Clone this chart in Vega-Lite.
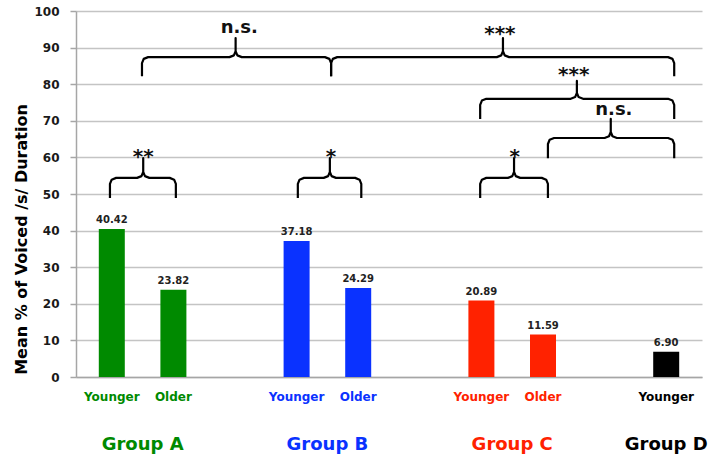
{
  "$schema": "https://vega.github.io/schema/vega-lite/v6.json",
  "autosize": {"type": "none"},
  "width": 626,
  "height": 366,
  "padding": {"left": 76, "top": 11, "right": 18, "bottom": 80},
  "background": "white",
  "config": {
    "view": {"stroke": null},
    "font": "DejaVu Sans",
    "axisY": {
      "domainColor": "#a6a6a6", "domainWidth": 1.5,
      "gridColor": "#c4c4c4", "gridWidth": 1.5,
      "tickColor": "#a6a6a6", "tickSize": 6, "tickWidth": 1.5,
      "labelFont": "DejaVu Sans", "labelFontWeight": "bold", "labelFontSize": 12, "labelColor": "#1a1a1a", "labelPadding": 11,
      "titleFont": "DejaVu Sans", "titleFontWeight": "bold", "titleFontSize": 16, "titleColor": "#000000"
    },
    "axisX": {"domainColor": "#a6a6a6", "domainWidth": 1.5, "grid": false, "ticks": false, "labels": false}
  },
  "datasets": {
    "bars": [
      {"g": "Group A", "a": "Younger", "p": 1, "v": 40.42},
      {"g": "Group A", "a": "Older", "p": 2, "v": 23.82},
      {"g": "Group B", "a": "Younger", "p": 4, "v": 37.18},
      {"g": "Group B", "a": "Older", "p": 5, "v": 24.29},
      {"g": "Group C", "a": "Younger", "p": 7, "v": 20.89},
      {"g": "Group C", "a": "Older", "p": 8, "v": 11.59},
      {"g": "Group D", "a": "Younger", "p": 10, "v": 6.90}
    ],
    "braces": [
      {"b": 1, "i": 1, "x": 0.97, "y": 48.9}, {"b": 1, "i": 2, "x": 0.97, "y": 52.76}, {"b": 1, "i": 3, "x": 0.998, "y": 53.92}, {"b": 1, "i": 4, "x": 1.07, "y": 54.4}, {"b": 1, "i": 5, "x": 1.41, "y": 54.4}, {"b": 1, "i": 6, "x": 1.482, "y": 54.88}, {"b": 1, "i": 7, "x": 1.51, "y": 56.04}, {"b": 1, "i": 8, "x": 1.51, "y": 59.8}, {"b": 1, "i": 9, "x": 1.51, "y": 56.04}, {"b": 1, "i": 10, "x": 1.538, "y": 54.88}, {"b": 1, "i": 11, "x": 1.61, "y": 54.4}, {"b": 1, "i": 12, "x": 1.94, "y": 54.4}, {"b": 1, "i": 13, "x": 2.012, "y": 53.92}, {"b": 1, "i": 14, "x": 2.04, "y": 52.76}, {"b": 1, "i": 15, "x": 2.04, "y": 48.9},
      {"b": 2, "i": 1, "x": 4.02, "y": 48.9}, {"b": 2, "i": 2, "x": 4.02, "y": 52.76}, {"b": 2, "i": 3, "x": 4.048, "y": 53.92}, {"b": 2, "i": 4, "x": 4.12, "y": 54.4}, {"b": 2, "i": 5, "x": 4.44, "y": 54.4}, {"b": 2, "i": 6, "x": 4.512, "y": 54.88}, {"b": 2, "i": 7, "x": 4.54, "y": 56.04}, {"b": 2, "i": 8, "x": 4.54, "y": 59.8}, {"b": 2, "i": 9, "x": 4.54, "y": 56.04}, {"b": 2, "i": 10, "x": 4.568, "y": 54.88}, {"b": 2, "i": 11, "x": 4.64, "y": 54.4}, {"b": 2, "i": 12, "x": 4.95, "y": 54.4}, {"b": 2, "i": 13, "x": 5.022, "y": 53.92}, {"b": 2, "i": 14, "x": 5.05, "y": 52.76}, {"b": 2, "i": 15, "x": 5.05, "y": 48.9},
      {"b": 3, "i": 1, "x": 6.98, "y": 48.9}, {"b": 3, "i": 2, "x": 6.98, "y": 52.76}, {"b": 3, "i": 3, "x": 7.008, "y": 53.92}, {"b": 3, "i": 4, "x": 7.08, "y": 54.4}, {"b": 3, "i": 5, "x": 7.43, "y": 54.4}, {"b": 3, "i": 6, "x": 7.502, "y": 54.88}, {"b": 3, "i": 7, "x": 7.53, "y": 56.04}, {"b": 3, "i": 8, "x": 7.53, "y": 59.8}, {"b": 3, "i": 9, "x": 7.53, "y": 56.04}, {"b": 3, "i": 10, "x": 7.558, "y": 54.88}, {"b": 3, "i": 11, "x": 7.63, "y": 54.4}, {"b": 3, "i": 12, "x": 7.98, "y": 54.4}, {"b": 3, "i": 13, "x": 8.052, "y": 53.92}, {"b": 3, "i": 14, "x": 8.08, "y": 52.76}, {"b": 3, "i": 15, "x": 8.08, "y": 48.9},
      {"b": 4, "i": 1, "x": 1.49, "y": 82.2}, {"b": 4, "i": 2, "x": 1.49, "y": 85.76}, {"b": 4, "i": 3, "x": 1.518, "y": 86.92}, {"b": 4, "i": 4, "x": 1.59, "y": 87.4}, {"b": 4, "i": 5, "x": 2.91, "y": 87.4}, {"b": 4, "i": 6, "x": 2.982, "y": 87.88}, {"b": 4, "i": 7, "x": 3.01, "y": 89.04}, {"b": 4, "i": 8, "x": 3.01, "y": 92.6}, {"b": 4, "i": 9, "x": 3.01, "y": 89.04}, {"b": 4, "i": 10, "x": 3.038, "y": 87.88}, {"b": 4, "i": 11, "x": 3.11, "y": 87.4}, {"b": 4, "i": 12, "x": 4.46, "y": 87.4}, {"b": 4, "i": 13, "x": 4.532, "y": 86.92}, {"b": 4, "i": 14, "x": 4.56, "y": 85.76}, {"b": 4, "i": 15, "x": 4.56, "y": 82.2},
      {"b": 5, "i": 1, "x": 4.56, "y": 82.2}, {"b": 5, "i": 2, "x": 4.56, "y": 85.76}, {"b": 5, "i": 3, "x": 4.588, "y": 86.92}, {"b": 5, "i": 4, "x": 4.66, "y": 87.4}, {"b": 5, "i": 5, "x": 7.25, "y": 87.4}, {"b": 5, "i": 6, "x": 7.322, "y": 87.88}, {"b": 5, "i": 7, "x": 7.35, "y": 89.04}, {"b": 5, "i": 8, "x": 7.35, "y": 92.6}, {"b": 5, "i": 9, "x": 7.35, "y": 89.04}, {"b": 5, "i": 10, "x": 7.378, "y": 87.88}, {"b": 5, "i": 11, "x": 7.45, "y": 87.4}, {"b": 5, "i": 12, "x": 10.03, "y": 87.4}, {"b": 5, "i": 13, "x": 10.102, "y": 86.92}, {"b": 5, "i": 14, "x": 10.13, "y": 85.76}, {"b": 5, "i": 15, "x": 10.13, "y": 82.2},
      {"b": 6, "i": 1, "x": 6.98, "y": 70.5}, {"b": 6, "i": 2, "x": 6.98, "y": 74.36}, {"b": 6, "i": 3, "x": 7.008, "y": 75.52}, {"b": 6, "i": 4, "x": 7.08, "y": 76.0}, {"b": 6, "i": 5, "x": 8.45, "y": 76.0}, {"b": 6, "i": 6, "x": 8.522, "y": 76.48}, {"b": 6, "i": 7, "x": 8.55, "y": 77.64}, {"b": 6, "i": 8, "x": 8.55, "y": 80.9}, {"b": 6, "i": 9, "x": 8.55, "y": 77.64}, {"b": 6, "i": 10, "x": 8.578, "y": 76.48}, {"b": 6, "i": 11, "x": 8.65, "y": 76.0}, {"b": 6, "i": 12, "x": 10.03, "y": 76.0}, {"b": 6, "i": 13, "x": 10.102, "y": 75.52}, {"b": 6, "i": 14, "x": 10.13, "y": 74.36}, {"b": 6, "i": 15, "x": 10.13, "y": 70.5},
      {"b": 7, "i": 1, "x": 8.08, "y": 59.8}, {"b": 7, "i": 2, "x": 8.08, "y": 63.66}, {"b": 7, "i": 3, "x": 8.108, "y": 64.82}, {"b": 7, "i": 4, "x": 8.18, "y": 65.3}, {"b": 7, "i": 5, "x": 9.0, "y": 65.3}, {"b": 7, "i": 6, "x": 9.072, "y": 65.78}, {"b": 7, "i": 7, "x": 9.1, "y": 66.94}, {"b": 7, "i": 8, "x": 9.1, "y": 70.5}, {"b": 7, "i": 9, "x": 9.1, "y": 66.94}, {"b": 7, "i": 10, "x": 9.128, "y": 65.78}, {"b": 7, "i": 11, "x": 9.2, "y": 65.3}, {"b": 7, "i": 12, "x": 10.03, "y": 65.3}, {"b": 7, "i": 13, "x": 10.102, "y": 64.82}, {"b": 7, "i": 14, "x": 10.13, "y": 63.66}, {"b": 7, "i": 15, "x": 10.13, "y": 59.8}
    ],
    "sig": [
      {"t": "n.s.", "x": 3.07, "y": 94.0},
      {"t": "***", "x": 7.30, "y": 92.2},
      {"t": "***", "x": 8.50, "y": 80.8},
      {"t": "n.s.", "x": 9.15, "y": 71.6},
      {"t": "**", "x": 1.51, "y": 58.4},
      {"t": "*", "x": 4.56, "y": 58.4},
      {"t": "*", "x": 7.54, "y": 58.4}
    ]
  },
  "layer": [
    {
      "data": {"name": "bars"},
      "mark": {"type": "bar", "size": 26},
      "encoding": {
        "x": {"field": "p", "type": "quantitative", "scale": {"domain": [0.5, 10.5], "nice": false, "zero": false}, "axis": {"title": null}},
        "y": {"field": "v", "type": "quantitative", "scale": {"domain": [0, 100], "nice": false}, "axis": {"title": "Mean % of Voiced /s/ Duration", "values": [0, 10, 20, 30, 40, 50, 60, 70, 80, 90, 100], "titleX": -55, "titleY": 228, "titleAngle": -90, "titleAlign": "center", "titleBaseline": "middle"}},
        "color": {"field": "g", "type": "nominal", "scale": {"domain": ["Group A", "Group B", "Group C", "Group D"], "range": ["#008a00", "#0a32ff", "#ff2200", "#000000"]}, "legend": null}
      }
    },
    {
      "data": {"name": "bars"},
      "mark": {"type": "text", "font": "DejaVu Sans", "fontWeight": "bold", "fontSize": 10, "baseline": "alphabetic", "dy": -6, "color": "#222222"},
      "encoding": {
        "x": {"field": "p", "type": "quantitative", "axis": {"title": null}},
        "y": {"field": "v", "type": "quantitative", "axis": {"title": "Mean % of Voiced /s/ Duration", "values": [0, 10, 20, 30, 40, 50, 60, 70, 80, 90, 100], "titleX": -55, "titleY": 228, "titleAngle": -90, "titleAlign": "center", "titleBaseline": "middle"}},
        "text": {"field": "v", "type": "quantitative", "format": ".2f"}
      }
    },
    {
      "data": {"name": "bars"},
      "mark": {"type": "text", "font": "DejaVu Sans", "fontWeight": "bold", "fontSize": 12, "baseline": "middle"},
      "encoding": {
        "x": {"field": "p", "type": "quantitative", "axis": {"title": null}},
        "y": {"datum": -5.4, "type": "quantitative", "axis": {"title": "Mean % of Voiced /s/ Duration", "values": [0, 10, 20, 30, 40, 50, 60, 70, 80, 90, 100], "titleX": -55, "titleY": 228, "titleAngle": -90, "titleAlign": "center", "titleBaseline": "middle"}},
        "text": {"field": "a", "type": "nominal"},
        "color": {"field": "g", "type": "nominal", "legend": null}
      }
    },
    {
      "data": {"name": "bars"},
      "transform": [{"aggregate": [{"op": "mean", "field": "p", "as": "mp"}], "groupby": ["g"]}],
      "mark": {"type": "text", "font": "DejaVu Sans", "fontWeight": "bold", "fontSize": 18, "baseline": "middle"},
      "encoding": {
        "x": {"field": "mp", "type": "quantitative", "axis": {"title": null}},
        "y": {"datum": -18.5, "type": "quantitative", "axis": {"title": "Mean % of Voiced /s/ Duration", "values": [0, 10, 20, 30, 40, 50, 60, 70, 80, 90, 100], "titleX": -55, "titleY": 228, "titleAngle": -90, "titleAlign": "center", "titleBaseline": "middle"}},
        "text": {"field": "g", "type": "nominal"},
        "color": {"field": "g", "type": "nominal", "legend": null}
      }
    },
    {
      "data": {"name": "braces"},
      "mark": {"type": "line", "color": "#000000", "strokeWidth": 2.2, "strokeJoin": "round", "strokeCap": "butt"},
      "encoding": {
        "x": {"field": "x", "type": "quantitative", "axis": {"title": null}},
        "y": {"field": "y", "type": "quantitative", "axis": {"title": "Mean % of Voiced /s/ Duration", "values": [0, 10, 20, 30, 40, 50, 60, 70, 80, 90, 100], "titleX": -55, "titleY": 228, "titleAngle": -90, "titleAlign": "center", "titleBaseline": "middle"}},
        "detail": {"field": "b", "type": "nominal"},
        "order": {"field": "i", "type": "quantitative"}
      }
    },
    {
      "data": {"name": "sig"},
      "transform": [{"filter": "datum.t === 'n.s.'"}],
      "mark": {"type": "text", "font": "DejaVu Sans", "fontWeight": "bold", "fontSize": 18, "baseline": "alphabetic", "color": "#111111"},
      "encoding": {
        "x": {"field": "x", "type": "quantitative", "axis": {"title": null}},
        "y": {"field": "y", "type": "quantitative", "axis": {"title": "Mean % of Voiced /s/ Duration", "values": [0, 10, 20, 30, 40, 50, 60, 70, 80, 90, 100], "titleX": -55, "titleY": 228, "titleAngle": -90, "titleAlign": "center", "titleBaseline": "middle"}},
        "text": {"field": "t", "type": "nominal"}
      }
    },
    {
      "data": {"name": "sig"},
      "transform": [{"filter": "datum.t !== 'n.s.'"}],
      "mark": {"type": "text", "font": "DejaVu Sans", "fontWeight": "bold", "fontSize": 20, "baseline": "alphabetic", "color": "#111111"},
      "encoding": {
        "x": {"field": "x", "type": "quantitative", "axis": {"title": null}},
        "y": {"field": "y", "type": "quantitative", "axis": {"title": "Mean % of Voiced /s/ Duration", "values": [0, 10, 20, 30, 40, 50, 60, 70, 80, 90, 100], "titleX": -55, "titleY": 228, "titleAngle": -90, "titleAlign": "center", "titleBaseline": "middle"}},
        "text": {"field": "t", "type": "nominal"}
      }
    }
  ]
}
